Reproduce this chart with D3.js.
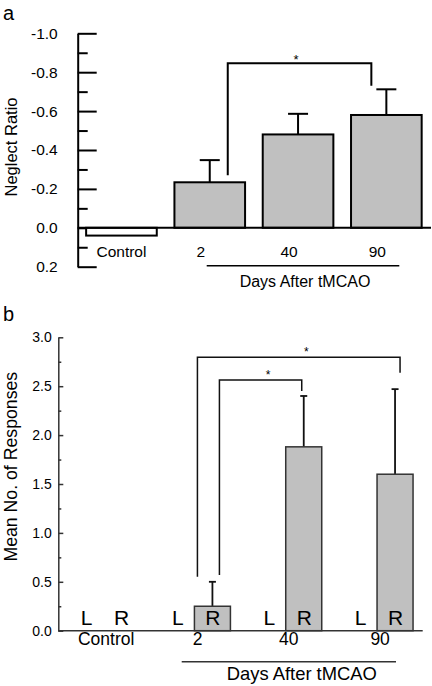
<!DOCTYPE html>
<html>
<head>
<meta charset="utf-8">
<script src="https://cdn.jsdelivr.net/npm/d3@7"></script>
<style>
  html, body { margin: 0; padding: 0; background: #fff; }
  svg { display: block; }
  text { font-family: "Liberation Sans", Arial, Helvetica, sans-serif; fill: #000; }
</style>
</head>
<body>
<svg id="chart" width="432" height="686"></svg>
<script>
// ---------- Panel a data ----------
const catsA = ["Control", "2", "40", "90"];
const valuesA = [0.04, -0.234, -0.48, -0.58];
const errorsA = [null, 0.114, 0.106, 0.132];
const ticksA = [-1.0, -0.8, -0.6, -0.4, -0.2, 0.0, 0.2];
const tickLabelsA = ["-1.0", "-0.8", "-0.6", "-0.4", "-0.2", "0.0", "0.2"];
const minorTicksA = [-0.9, -0.7, -0.5, -0.3, -0.1, 0.1];
const sigA = [{ from: "2", to: "90", level: -0.846, leftEnd: -0.27, rightEnd: -0.73 }];

// ---------- Panel b data ----------
const groupsB = ["Control", "2", "40", "90"];
const sidesB = ["L", "R"];
const valuesL = [0, 0, 0, 0];
const valuesR = [0, 0.25, 1.88, 1.6];
const errorsR = [null, 0.25, 0.52, 0.87];
const ticksB = [0, 0.5, 1.0, 1.5, 2.0, 2.5, 3.0];
const tickLabelsB = ["0.0", "0.5", "1.0", "1.5", "2.0", "2.5", "3.0"];
const minorTicksB = [0.25, 0.75, 1.25, 1.75, 2.25, 2.75];
const sigB = [
  { from: "2", to: "90", level: 2.795, leftEnd: 0.552, rightEnd: 2.638 },
  { from: "2", to: "40", level: 2.563, leftEnd: 0.57, rightEnd: 2.45 }
];

const svg = d3.select("#chart");
const GRAY = "#c0c0c0";

// ================= Panel a =================
(function () {
  const g = svg.append("g");
  const axisX = 77.7, right = 431;
  const y = d3.scaleLinear().domain([-1.0, 0.2]).range([33.3, 266.7]);
  const x = d3.scaleBand().domain(catsA).range([77.3, 430.5]).paddingInner(0.2).paddingOuter(0.1);
  const bw = x.bandwidth();

  g.append("text").attr("x", 3).attr("y", 20).attr("font-size", 20).text("a");

  // minor ticks
  const minor = g.append("g").attr("transform", `translate(${axisX},0)`)
    .call(d3.axisLeft(y).tickValues(minorTicksA).tickSizeInner(-10).tickSizeOuter(0).tickFormat(""));
  minor.select(".domain").remove();
  minor.selectAll("line").attr("stroke", "#000").attr("stroke-width", 2);

  const ax = g.append("g").attr("transform", `translate(${axisX},0)`)
    .call(d3.axisLeft(y).tickValues(ticksA).tickSizeInner(-19).tickSizeOuter(0).tickPadding(20)
      .tickFormat((d, i) => tickLabelsA[i]));
  ax.select(".domain").attr("stroke", "#000").attr("stroke-width", 2);
  ax.selectAll("line").attr("stroke", "#000").attr("stroke-width", 2);
  ax.selectAll("text").attr("font-size", 15.5).attr("font-family", "Liberation Sans, Arial, sans-serif").attr("fill", "#000");

  // y label
  g.append("text").attr("transform", `translate(16.5,147) rotate(-90)`)
    .attr("text-anchor", "middle").attr("font-size", 16.5).text("Neglect Ratio");

  // bars
  const data = catsA.map((c, i) => ({ c, v: valuesA[i], e: errorsA[i] }));
  // error bars (behind)
  const eb = data.filter(d => d.e != null);
  g.selectAll(".errA").data(eb).enter().append("line")
    .attr("x1", d => x(d.c) + bw / 2).attr("x2", d => x(d.c) + bw / 2)
    .attr("y1", d => y(d.v)).attr("y2", d => y(d.v - d.e))
    .attr("stroke", "#000").attr("stroke-width", 2);
  g.selectAll(".capA").data(eb).enter().append("line")
    .attr("x1", d => x(d.c) + bw / 2 - 10).attr("x2", d => x(d.c) + bw / 2 + 10)
    .attr("y1", d => y(d.v - d.e)).attr("y2", d => y(d.v - d.e))
    .attr("stroke", "#000").attr("stroke-width", 2);

  g.selectAll(".barA").data(data).enter().append("rect")
    .attr("x", d => x(d.c)).attr("width", bw)
    .attr("y", d => Math.min(y(d.v), y(0))).attr("height", d => Math.abs(y(d.v) - y(0)))
    .attr("fill", d => d.c === "Control" ? "#fff" : GRAY)
    .attr("stroke", "#000").attr("stroke-width", 2);

  // zero line
  g.append("line").attr("x1", axisX).attr("x2", right).attr("y1", y(0)).attr("y2", y(0))
    .attr("stroke", "#000").attr("stroke-width", 2);

  // category labels
  g.selectAll(".catA").data(catsA).enter().append("text")
    .attr("x", d => x(d) + bw / 2 + (d === "Control" ? 0 : -9))
    .attr("y", 256.7).attr("text-anchor", "middle").attr("font-size", 15.5).text(d => d);

  // group underline + label
  g.append("line").attr("x1", 206.7).attr("x2", 399.3).attr("y1", 265.7).attr("y2", 265.7)
    .attr("stroke", "#000").attr("stroke-width", 1.5);
  g.append("text").attr("x", 305).attr("y", 286.7).attr("text-anchor", "middle")
    .attr("font-size", 16).text("Days After tMCAO");

  // significance bracket
  sigA.forEach(s => {
    const x1 = x(s.from) + bw / 2 + 18, x2 = x(s.to) + bw / 2 - 15;
    g.append("path")
      .attr("d", `M${x1},${y(s.leftEnd)}V${y(s.level)}H${x2}V${y(s.rightEnd)}`)
      .attr("fill", "none").attr("stroke", "#000").attr("stroke-width", 2);
    g.append("text").attr("x", (x1 + x2) / 2 - 3.5).attr("y", y(s.level) + 1)
      .attr("text-anchor", "middle").attr("font-size", 13).text("*");
  });
})();

// ================= Panel b =================
(function () {
  const g = svg.append("g");
  const axisX = 58.3, right = 422.7;
  const LINE = "#333";
  const y = d3.scaleLinear().domain([0, 3]).range([630.7, 337.3]);
  const x0 = d3.scaleBand().domain(groupsB).range([58.3, 422]).paddingInner(0.21).paddingOuter(0.0965);
  const x1 = d3.scaleBand().domain(sidesB).range([0, 72]).padding(0);
  const bw = x1.bandwidth();

  g.append("text").attr("x", 3).attr("y", 320.7).attr("font-size", 20).text("b");

  const minor = g.append("g").attr("transform", `translate(${axisX},0)`)
    .call(d3.axisLeft(y).tickValues(minorTicksB).tickSizeInner(-3).tickSizeOuter(0).tickFormat(""));
  minor.select(".domain").remove();
  minor.selectAll("line").attr("stroke", LINE).attr("stroke-width", 1.5);

  const ax = g.append("g").attr("transform", `translate(${axisX},0)`)
    .call(d3.axisLeft(y).tickValues(ticksB).tickSizeInner(-5).tickSizeOuter(0).tickPadding(6.5)
      .tickFormat((d, i) => tickLabelsB[i]));
  ax.select(".domain").attr("stroke", LINE).attr("stroke-width", 1.5);
  ax.selectAll("line").attr("stroke", LINE).attr("stroke-width", 1.5);
  ax.selectAll("text").attr("font-size", 14).attr("font-family", "Liberation Sans, Arial, sans-serif").attr("fill", "#000");

  g.append("text").attr("transform", `translate(17,466.7) rotate(-90)`)
    .attr("text-anchor", "middle").attr("font-size", 17.7).text("Mean No. of Responses");

  const data = [];
  groupsB.forEach((grp, i) => {
    data.push({ grp, side: "L", v: valuesL[i], e: null });
    data.push({ grp, side: "R", v: valuesR[i], e: errorsR[i] });
  });
  const cx = d => x0(d.grp) + x1(d.side) + bw / 2;

  const eb = data.filter(d => d.e != null);
  g.selectAll(".errB").data(eb).enter().append("line")
    .attr("x1", cx).attr("x2", cx)
    .attr("y1", d => y(d.v)).attr("y2", d => y(d.v + d.e))
    .attr("stroke", "#111").attr("stroke-width", 1.8);
  g.selectAll(".capB").data(eb).enter().append("line")
    .attr("x1", d => cx(d) - 3.5).attr("x2", d => cx(d) + 3.5)
    .attr("y1", d => y(d.v + d.e)).attr("y2", d => y(d.v + d.e))
    .attr("stroke", "#111").attr("stroke-width", 1.8);

  g.selectAll(".barB").data(data.filter(d => d.v > 0)).enter().append("rect")
    .attr("x", d => x0(d.grp) + x1(d.side)).attr("width", bw)
    .attr("y", d => y(d.v)).attr("height", d => y(0) - y(d.v))
    .attr("fill", GRAY).attr("stroke", LINE).attr("stroke-width", 1.5);

  g.append("line").attr("x1", axisX).attr("x2", right).attr("y1", y(0)).attr("y2", y(0))
    .attr("stroke", LINE).attr("stroke-width", 1.5);

  // L / R letters
  g.selectAll(".lr").data(data).enter().append("text")
    .attr("x", d => cx(d) + (d.side === "L" ? 1.5 : 0.5))
    .attr("y", 625).attr("text-anchor", "middle").attr("font-size", 21).text(d => d.side);

  g.selectAll(".catB").data(groupsB).enter().append("text")
    .attr("x", d => x0(d) + x0.bandwidth() / 2 + 3)
    .attr("y", 645).attr("text-anchor", "middle").attr("font-size", 17.5).text(d => d);

  g.append("line").attr("x1", 181.7).attr("x2", 396).attr("y1", 661.7).attr("y2", 661.7)
    .attr("stroke", LINE).attr("stroke-width", 1.5);
  g.append("text").attr("x", 301.8).attr("y", 680).attr("text-anchor", "middle")
    .attr("font-size", 18.4).text("Days After tMCAO");

  // brackets
  const offs = [[-15, 5], [7, -2]];
  sigB.forEach((s, i) => {
    const rc = grp => x0(grp) + x1("R") + bw / 2;
    const xa = i === 0 ? x0(s.from) + x1("R") + 3 : rc(s.from) + offs[i][0];
    const xb = rc(s.to) + offs[i][1];
    g.append("path")
      .attr("d", `M${xa},${y(s.leftEnd)}V${y(s.level)}H${xb}V${y(s.rightEnd)}`)
      .attr("fill", "none").attr("stroke", "#111").attr("stroke-width", 1.5);
    g.append("text").attr("x", (xa + xb) / 2 + 7.5).attr("y", y(s.level) - 1)
      .attr("text-anchor", "middle").attr("font-size", 12).text("*");
  });
})();
</script>
</body>
</html>
